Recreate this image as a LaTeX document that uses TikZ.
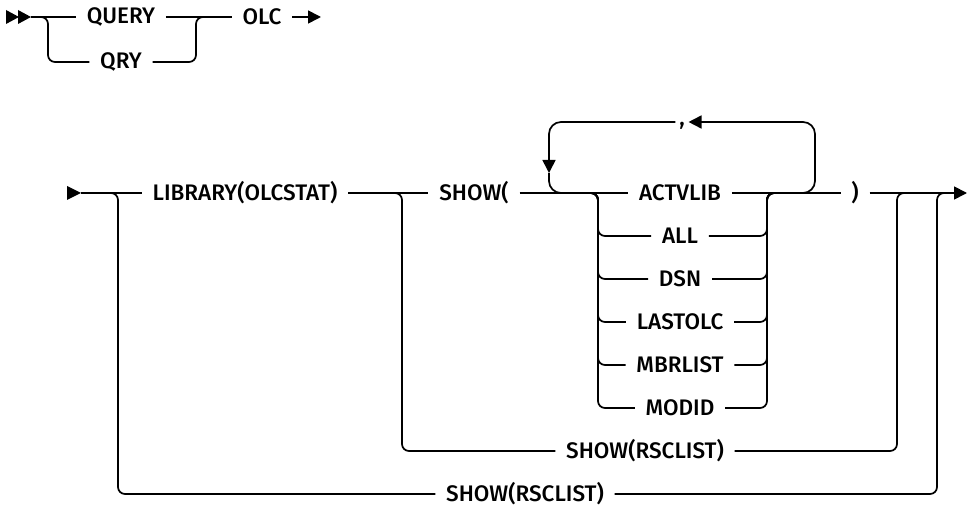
\documentclass[tikz,border=0pt]{standalone}
\usepackage{fontspec}
\IfFontExistsTF{Fira Sans Medium}{\setmainfont{Fira Sans Medium}}{\setmainfont{Fira Sans}}
\usetikzlibrary{arrows.meta,calc}
\begin{document}
\begin{tikzpicture}[x=1pt, y=-1pt, line width=1.7pt,
  kw/.style={inner xsep=10pt, inner ysep=2pt, font=\fontsize{22.5}{26}\selectfont},
  br/.style={rounded corners=7pt},
  lp/.style={rounded corners=12pt},
  endarrow/.style={-{Triangle[length=13pt,width=13pt]}}]
\useasboundingbox (0,0) rectangle (968,510);
% QUERY | QRY  OLC
\coordinate (s1) at (31,17);
\fill (6,10) -- (19,17) -- (6,24) -- cycle (18,10) -- (s1) -- (18,24) -- cycle;
\node[kw] (query) at (121,17) {QUERY};
\node[kw] (qry) at (121,62) {QRY};
\node[kw] (olc) at (262,17) {OLC};
\coordinate (e0) at (321,17);
\coordinate (j1) at (48,17); \coordinate (j2) at (196,17);
\draw (s1) -- (query.west) (query.east) -- (olc.west);
\draw[br] ($(j1)+(-8,0)$) -- (j1) |- (qry.west) (qry.east) -| (j2) -- ++(8,0);
\draw[endarrow] (olc.east) -- (e0);
% LIBRARY(OLCSTAT) SHOW( ... )
\coordinate (b1) at (81,193);
\fill (67,186) -- (b1) -- (67,200) -- cycle;
\node[kw] (lib) at (245,193) {LIBRARY(OLCSTAT)};
\node[kw] (show) at (474,193) {SHOW(};
\node[kw] (actv) at (680,193) {ACTVLIB};
\node[kw] (rp) at (855,193) {)};
\coordinate (e1) at (967,193);
\draw (b1) -- (lib.west) (lib.east) -- (show.west);
\draw (show.east) -- (actv.west) (actv.east) -- (rp.west);
\draw[endarrow] (rp.east) -- (e1);
% choices
\coordinate (cl) at (598,193); \coordinate (cr) at (767,193);
\foreach \n/\t [count=\i] in {all/ALL,dsn/DSN,last/LASTOLC,mbr/MBRLIST,mod/MODID} {
  \node[kw] (\n) at (680,193+43*\i) {\t};
  \draw[br] ($(cl)+(-8,0)$) -- (cl) |- (\n.west) (\n.east) -| (cr) -- ++(8,0);
}
% repeat loop
\node[kw, inner xsep=3pt] (comma) at (682,122) {\smash{\raisebox{-4pt}{,}}};
\coordinate (lr) at (815,193); \coordinate (ll) at (549,193); \coordinate (ld) at (549,173);
\draw[lp,endarrow] ($(lr)+(-15,0)$) -- (lr) -- (lr |- comma) -- (comma.east);
\draw[lp,endarrow] (comma.west) -| (ld);
\draw[lp] (ld) |- ($(ll)+(16,0)$);
% SHOW(RSCLIST)
\node[kw] (rsca) at (645,451) {SHOW(RSCLIST)};
\node[kw] (rscb) at (525,494) {SHOW(RSCLIST)};
\coordinate (ja) at (402,193); \coordinate (jb) at (897,193);
\coordinate (jc) at (118,193); \coordinate (jd) at (937,193);
\draw[br] ($(ja)+(-8,0)$) -- (ja) |- (rsca.west) (rsca.east) -| (jb) -- ++(8,0);
\draw[br] ($(jc)+(-8,0)$) -- (jc) |- (rscb.west) (rscb.east) -| (jd) -- ++(8,0);
\end{tikzpicture}
\end{document}
